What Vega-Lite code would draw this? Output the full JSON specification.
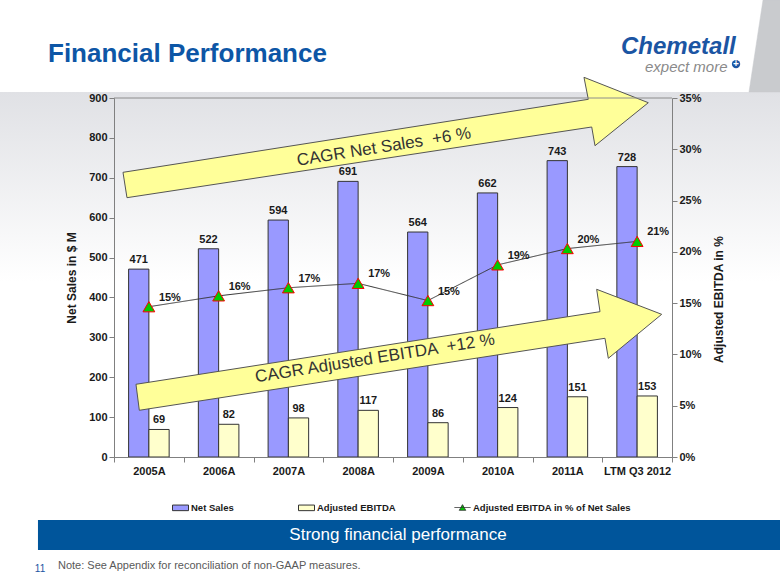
{
  "$schema": "https://vega.github.io/schema/vega-lite/v6.json",
  "width": 558,
  "height": 359,
  "autosize": {"type": "none"},
  "padding": {"left": 114, "top": 98, "right": 108, "bottom": 128},
  "background": "#ffffff",
  "config": {
    "view": {"stroke": "#8c8c8c", "strokeWidth": 1},
    "axis": {"labelFont": "Liberation Sans", "titleFont": "Liberation Sans", "labelFontSize": 11, "labelFontWeight": "bold", "labelColor": "#1a1a1a", "titleColor": "#1a1a1a", "titleFontSize": 12, "titleFontWeight": "bold", "domainColor": "#808080", "tickColor": "#808080", "tickSize": 5, "grid": false},
    "text": {"font": "Liberation Sans"}
  },
  "datasets": {
    "fin": [
      {"period": "2005A", "Net Sales": 471, "Adjusted EBITDA": 69, "pct": 14.65, "pctLabel": "15%"},
      {"period": "2006A", "Net Sales": 522, "Adjusted EBITDA": 82, "pct": 15.71, "pctLabel": "16%"},
      {"period": "2007A", "Net Sales": 594, "Adjusted EBITDA": 98, "pct": 16.50, "pctLabel": "17%"},
      {"period": "2008A", "Net Sales": 691, "Adjusted EBITDA": 117, "pct": 16.93, "pctLabel": "17%"},
      {"period": "2009A", "Net Sales": 564, "Adjusted EBITDA": 86, "pct": 15.25, "pctLabel": "15%"},
      {"period": "2010A", "Net Sales": 662, "Adjusted EBITDA": 124, "pct": 18.73, "pctLabel": "19%"},
      {"period": "2011A", "Net Sales": 743, "Adjusted EBITDA": 151, "pct": 20.32, "pctLabel": "20%"},
      {"period": "LTM Q3 2012", "Net Sales": 728, "Adjusted EBITDA": 153, "pct": 21.02, "pctLabel": "21%"}
    ],
    "arrows": [
      {"arrow": "ns", "o": 1, "i": -0.371, "v": 713.7},
      {"arrow": "ns", "o": 2, "i": 6.300, "v": 896.7},
      {"arrow": "ns", "o": 3, "i": 6.238, "v": 951.9},
      {"arrow": "ns", "o": 4, "i": 7.160, "v": 888.2},
      {"arrow": "ns", "o": 5, "i": 6.396, "v": 780.4},
      {"arrow": "ns", "o": 6, "i": 6.349, "v": 827.3},
      {"arrow": "ns", "o": 7, "i": -0.314, "v": 650.1},
      {"arrow": "ns", "o": 8, "i": -0.371, "v": 713.7},
      {"arrow": "eb", "o": 1, "i": -0.185, "v": 182.3},
      {"arrow": "eb", "o": 2, "i": 6.468, "v": 364.3},
      {"arrow": "eb", "o": 3, "i": 6.420, "v": 420.4},
      {"arrow": "eb", "o": 4, "i": 7.352, "v": 357.7},
      {"arrow": "eb", "o": 5, "i": 6.587, "v": 247.4},
      {"arrow": "eb", "o": 6, "i": 6.539, "v": 297.6},
      {"arrow": "eb", "o": 7, "i": -0.137, "v": 117.1},
      {"arrow": "eb", "o": 8, "i": -0.185, "v": 182.3}
    ],
    "deco": [
      {"o": 1, "i": 8.805, "v": 1146},
      {"o": 2, "i": 9.1, "v": 1146},
      {"o": 3, "i": 9.1, "v": 915},
      {"o": 4, "i": 8.604, "v": 915},
      {"o": 5, "i": 8.805, "v": 1146}
    ]
  },
  "layer": [
    {
      "data": {"values": [{}]},
      "mark": {"type": "rect", "color": {"gradient": "linear", "x1": 0, "y1": 0, "x2": 0, "y2": 1, "stops": [{"offset": 0, "color": "#E0E1E5"}, {"offset": 1, "color": "#FFFFFF"}]}},
      "encoding": {
        "x": {"datum": -2.2, "type": "quantitative", "scale": {"domain": [-0.5, 7.5], "nice": false, "zero": false}, "axis": null},
        "x2": {"datum": 9.1},
        "y": {"datum": 915, "type": "quantitative", "scale": {"domain": [0, 900], "nice": false, "zero": false}, "axis": null},
        "y2": {"datum": 440}
      }
    },
    {
      "data": {"name": "fin"},
      "layer": [
        {
          "transform": [{"fold": ["Net Sales", "Adjusted EBITDA"]}],
          "encoding": {
            "x": {"field": "period", "type": "nominal", "sort": null, "scale": {"paddingInner": 0, "paddingOuter": 0}, "axis": {"title": null, "labelAngle": 0, "tickBand": "extent", "labelPadding": 3, "zindex": 2}},
            "xOffset": {"field": "key", "type": "nominal", "sort": ["Net Sales", "Adjusted EBITDA"], "scale": {"paddingInner": 0, "paddingOuter": 0.72}},
            "y": {"field": "value", "type": "quantitative", "scale": {"domain": [0, 900], "nice": false}, "axis": {"title": "Net Sales in $ M", "values": [0, 100, 200, 300, 400, 500, 600, 700, 800, 900], "titlePadding": 10, "labelPadding": 2, "zindex": 2}}
          },
          "layer": [
            {
              "mark": {"type": "bar", "stroke": "#333333", "strokeWidth": 1},
              "encoding": {
                "color": {
                  "field": "key", "type": "nominal",
                  "scale": {"domain": ["Net Sales", "Adjusted EBITDA"], "range": ["#9999FF", "#FFFFCC"]},
                  "legend": {
                    "title": null, "orient": "none", "legendX": 58, "legendY": 401, "direction": "horizontal", "columns": 2, "columnPadding": 62, "labelOffset": 2,
                    "labelFont": "Liberation Sans", "labelFontSize": 9.5, "labelFontWeight": "bold", "labelColor": "#1a1a1a", "padding": 0,
                    "symbolType": "M-1,-0.35H1V0.35H-1Z", "symbolSize": 256, "symbolStrokeColor": "#333333", "symbolStrokeWidth": 1
                  }
                }
              }
            },
            {
              "mark": {"type": "text", "baseline": "bottom", "dy": -4, "fontSize": 11, "fontWeight": "bold", "color": "#1a1a1a"},
              "encoding": {"text": {"field": "value", "type": "quantitative"}}
            }
          ]
        },
        {
          "encoding": {
            "x": {"field": "period", "type": "nominal", "sort": null},
            "y": {"field": "pct", "type": "quantitative", "scale": {"domain": [0, 35], "nice": false}, "axis": {"orient": "right", "title": "Adjusted EBITDA in %", "titleAngle": 270, "titleY": 201, "values": [0, 5, 10, 15, 20, 25, 30, 35], "labelExpr": "datum.value + '%'", "titlePadding": 24, "labelPadding": 2, "zindex": 2}}
          },
          "layer": [
            {
              "mark": {"type": "line", "strokeWidth": 1, "color": "#333333"},
              "encoding": {
                "strokeDash": {
                  "datum": "Adjusted EBITDA in % of Net Sales",
                  "scale": {"range": [[1, 0]]},
                  "legend": {
                    "title": null, "orient": "none", "legendX": 340, "legendY": 401, "labelOffset": 2,
                    "labelFont": "Liberation Sans", "labelFontSize": 9.5, "labelFontWeight": "bold", "labelColor": "#1a1a1a", "padding": 0,
                    "symbolType": "M-1,0H1M-0.4,0.35L0,-0.35L0.4,0.35Z", "symbolSize": 256, "symbolFillColor": "#00CC00", "symbolStrokeColor": "#333333", "symbolStrokeWidth": 1
                  }
                }
              }
            },
            {"mark": {"type": "point", "shape": "triangle-up", "filled": true, "fill": "#00CC00", "stroke": "#FF0000", "strokeWidth": 1, "size": 140, "opacity": 1}},
            {"mark": {"type": "text", "align": "left", "dx": 10, "dy": -9, "fontSize": 11, "fontWeight": "bold", "color": "#1a1a1a"}, "encoding": {"text": {"field": "pctLabel"}}}
          ]
        }
      ],
      "resolve": {"scale": {"y": "independent"}}
    },
    {
      "layer": [
        {
          "data": {"name": "arrows"},
          "mark": {"type": "line", "fill": "#FFFF99", "stroke": "#555555", "strokeWidth": 1, "strokeJoin": "miter"},
          "encoding": {
            "x": {"field": "i", "type": "quantitative", "scale": {"domain": [-0.5, 7.5], "nice": false, "zero": false}, "axis": null},
            "y": {"field": "v", "type": "quantitative", "scale": {"domain": [0, 900], "nice": false, "zero": false}, "axis": null},
            "detail": {"field": "arrow"},
            "order": {"field": "o"}
          }
        },
        {
          "data": {"name": "deco"},
          "mark": {"type": "line", "fill": "#C9CBCE", "stroke": "#C9CBCE", "strokeWidth": 0.5},
          "encoding": {
            "x": {"field": "i", "type": "quantitative", "axis": null},
            "y": {"field": "v", "type": "quantitative", "axis": null},
            "order": {"field": "o"}
          }
        },
        {
          "data": {"values": [{}]},
          "mark": {"type": "rule", "color": "#8c8c8c", "strokeWidth": 1},
          "encoding": {"x": {"datum": -0.5, "type": "quantitative", "axis": null}, "x2": {"datum": 7.5}, "y": {"datum": 900, "type": "quantitative", "axis": null}}
        },
        {
          "data": {"values": [{}]},
          "mark": {"type": "text", "text": "Financial Performance", "fontSize": 26, "fontWeight": "bold", "color": "#0D56A6", "align": "left", "baseline": "alphabetic"},
          "encoding": {"x": {"datum": -1.446, "type": "quantitative", "axis": null}, "y": {"datum": 991, "type": "quantitative", "axis": null}}
        },
        {
          "data": {"values": [{}]},
          "mark": {"type": "text", "text": "CAGR Net Sales \u00a0+6 %", "angle": -9, "fontSize": 17, "color": "#333333", "align": "center", "baseline": "middle"},
          "encoding": {"x": {"datum": 3.371, "type": "quantitative", "axis": null}, "y": {"datum": 777, "type": "quantitative", "axis": null}}
        },
        {
          "data": {"values": [{}]},
          "mark": {"type": "text", "text": "CAGR Adjusted EBITDA \u00a0+12 %", "angle": -9, "fontSize": 17, "color": "#333333", "align": "center", "baseline": "middle"},
          "encoding": {"x": {"datum": 3.242, "type": "quantitative", "axis": null}, "y": {"datum": 247, "type": "quantitative", "axis": null}}
        },
        {
          "data": {"values": [{}]},
          "mark": {"type": "text", "text": "Chemetall", "fontSize": 24, "fontWeight": "bold", "fontStyle": "italic", "color": "#1B55A3", "align": "left", "baseline": "alphabetic"},
          "encoding": {"x": {"datum": 6.769, "type": "quantitative", "axis": null}, "y": {"datum": 1010, "type": "quantitative", "axis": null}}
        },
        {
          "data": {"values": [{}]},
          "mark": {"type": "text", "text": "expect more", "fontSize": 15, "fontStyle": "italic", "color": "#8A8A8A", "align": "left", "baseline": "alphabetic"},
          "encoding": {"x": {"datum": 7.113, "type": "quantitative", "axis": null}, "y": {"datum": 965, "type": "quantitative", "axis": null}}
        },
        {
          "data": {"values": [{}]},
          "mark": {"type": "circle", "size": 70, "color": "#1B55A3", "opacity": 1},
          "encoding": {"x": {"datum": 8.418, "type": "quantitative", "axis": null}, "y": {"datum": 985, "type": "quantitative", "axis": null}}
        },
        {
          "data": {"values": [{}]},
          "mark": {"type": "text", "text": "+", "fontSize": 10, "fontWeight": "bold", "color": "#ffffff", "align": "center", "baseline": "middle"},
          "encoding": {"x": {"datum": 8.418, "type": "quantitative", "axis": null}, "y": {"datum": 985, "type": "quantitative", "axis": null}}
        },
        {
          "data": {"values": [{}]},
          "mark": {"type": "rect", "color": "#00559B"},
          "encoding": {"x": {"datum": -1.59, "type": "quantitative", "axis": null}, "x2": {"datum": 9.1}, "y": {"datum": -158, "type": "quantitative", "axis": null}, "y2": {"datum": -233}}
        },
        {
          "data": {"values": [{}]},
          "mark": {"type": "text", "text": "Strong financial performance", "fontSize": 17, "color": "#ffffff", "align": "center", "baseline": "middle"},
          "encoding": {"x": {"datum": 3.572, "type": "quantitative", "axis": null}, "y": {"datum": -195.5, "type": "quantitative", "axis": null}}
        },
        {
          "data": {"values": [{}]},
          "mark": {"type": "text", "text": "Note: See Appendix for reconciliation of non-GAAP measures.", "fontSize": 11, "color": "#595959", "align": "left", "baseline": "middle"},
          "encoding": {"x": {"datum": -1.303, "type": "quantitative", "axis": null}, "y": {"datum": -273, "type": "quantitative", "axis": null}}
        },
        {
          "data": {"values": [{}]},
          "mark": {"type": "text", "text": "11", "fontSize": 10, "color": "#1B55A3", "align": "center", "baseline": "middle"},
          "encoding": {"x": {"datum": -1.561, "type": "quantitative", "axis": null}, "y": {"datum": -280, "type": "quantitative", "axis": null}}
        }
      ]
    }
  ],
  "resolve": {"scale": {"x": "independent", "y": "independent"}}
}
